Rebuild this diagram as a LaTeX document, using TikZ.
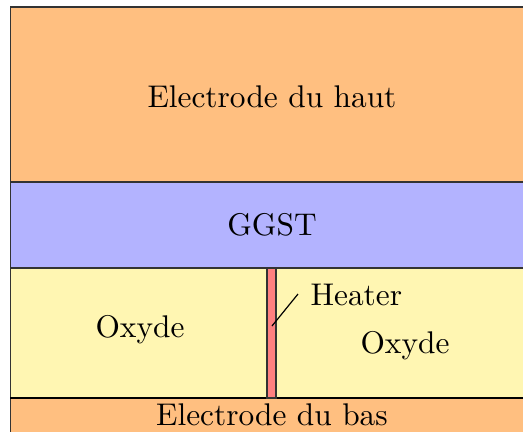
\documentclass[tikz,border=0pt]{standalone}
\begin{document}
\begin{tikzpicture}[x=0.33pt,y=-0.33pt,
  layer/.style={draw=black!80, line width=0.4pt},
  lbl/.style={font=\fontsize{10.35}{12}\selectfont, inner sep=0pt}]
\useasboundingbox (0,0) rectangle (523,432);
\clip (0,0) rectangle (523,432);
\definecolor{elec}{RGB}{255,191,128}
\definecolor{ggst}{RGB}{179,179,255}
\definecolor{oxy}{RGB}{255,246,178}
\definecolor{heat}{RGB}{255,128,128}
\filldraw[layer, fill=elec] (10.5,7) rectangle (540,182);
\filldraw[layer, fill=ggst] (10.5,182) rectangle (540,268);
\filldraw[layer, fill=oxy] (10.5,268) rectangle (540,398);
\filldraw[layer, fill=elec] (10.5,398) rectangle (540,450);
\draw[black, line width=0.6pt] (10.5,398) -- (540,398);
\filldraw[layer, fill=heat] (267,268) rectangle (276,398);
\node[lbl] (top) at (272,97) {Electrode du haut};
\node[lbl] (ggst) at (272,225) {GGST};
\node[lbl] (oxl) at (140,330) {Oxyde};
\node[lbl] (oxr) at (405,346) {Oxyde};
\node[lbl, anchor=west] (heater) at (310,295) {Heater};
\node[lbl] (bot) at (272,415) {Electrode du bas};
\coordinate (hp) at (272,326);
\coordinate (he) at (298,294);
\draw[line width=0.4pt] (hp) -- (he);
\end{tikzpicture}
\end{document}
